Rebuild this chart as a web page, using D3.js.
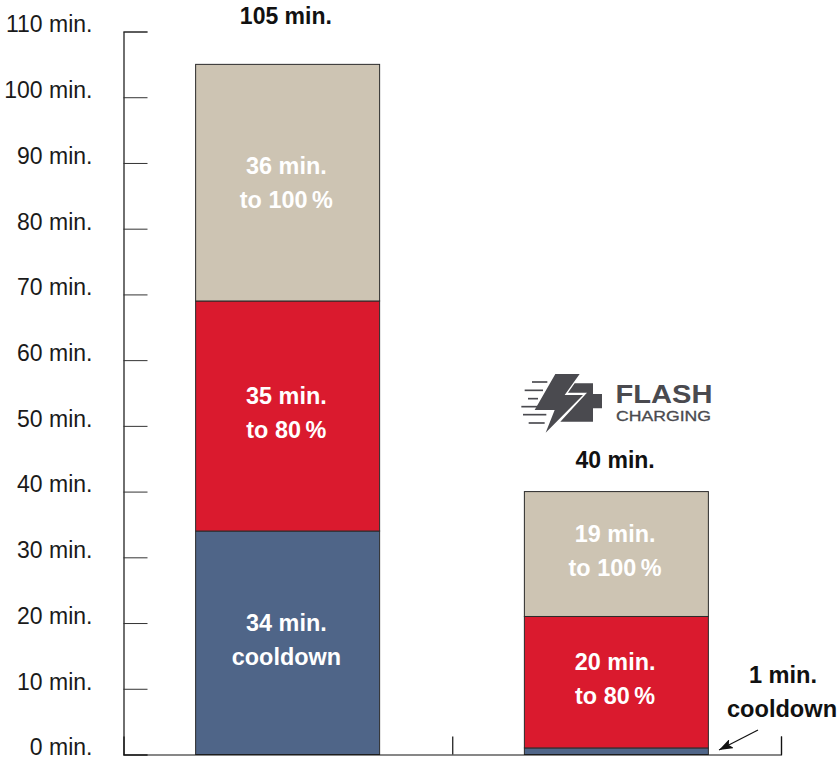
<!DOCTYPE html>
<html>
<head>
<meta charset="utf-8">
<script src="https://cdn.jsdelivr.net/npm/d3@7"></script>
<style>
  html, body { margin: 0; padding: 0; background: #fff; }
  svg { display: block; }
  text { font-family: "Liberation Sans", Arial, sans-serif; }
</style>
</head>
<body>
<svg id="chart" width="839" height="757"></svg>
<script>
const categories = ['Standard', 'Flash Charging'];
const cooldown = [34, 1];
const to80 = [35, 20];
const to100 = [36, 19];
const totals = ['105 min.', '40 min.'];
const yTicks = [0, 10, 20, 30, 40, 50, 60, 70, 80, 90, 100, 110];
const segmentKeys = ['cooldown', 'to80', 'to100'];
const segmentColors = ['#4f6588', '#da1a2e', '#cdc4b3'];
const segmentLabels = {
  cooldown: [['34 min.', 'cooldown'], null],
  to80: [['35 min.', 'to 80\u2009%'], ['20 min.', 'to 80\u2009%']],
  to100: [['36 min.', 'to 100\u2009%'], ['19 min.', 'to 100\u2009%']]
};

const rows = categories.map((c, i) => ({
  category: c, cooldown: cooldown[i], to80: to80[i], to100: to100[i], total: totals[i]
}));

const svg = d3.select('#chart');
const y = d3.scaleLinear().domain([0, 110]).range([754.5, 31.5]);
const x = d3.scaleBand().domain(categories).range([123.5, 781]).paddingInner(0).paddingOuter(0);
const barWidth = 184;
const barLeft = c => x(c) + (x.bandwidth() - barWidth) / 2 - 0.25;

const stack = d3.stack().keys(segmentKeys)(rows);

// bars
const layers = svg.selectAll('g.layer').data(stack).join('g')
  .attr('class', 'layer')
  .attr('fill', (d, i) => segmentColors[i]);

layers.selectAll('rect').data(d => d).join('rect')
  .attr('x', d => barLeft(d.data.category))
  .attr('y', d => y(d[1]))
  .attr('width', barWidth)
  .attr('height', d => y(d[0]) - y(d[1]))
  .attr('stroke', '#2a2a2a')
  .attr('stroke-width', 1);

// labels inside the bars
layers.each(function (layer) {
  d3.select(this).selectAll('text.seg').data(layer.filter((d, i) => segmentLabels[layer.key][i]).map(d => ({
    d, lines: segmentLabels[layer.key][rows.indexOf(d.data)]
  }))).join('text')
    .attr('class', 'seg')
    .attr('text-anchor', 'middle')
    .attr('fill', '#fff')
    .attr('font-size', 23.4)
    .attr('font-weight', 700)
    .each(function (o) {
      const cx = x(o.d.data.category) + x.bandwidth() / 2 - 1.5;
      const mid = (y(o.d[0]) + y(o.d[1])) / 2;
      const up = layer.key === 'to100' && o.d.data.category === categories[0] ? 0 : -3;
      d3.select(this).selectAll('tspan').data(o.lines).join('tspan')
        .attr('x', cx)
        .attr('y', (t, j) => mid + up - 9 + j * 34)
        .text(t => t);
    });
});

// axes
const yAxis = d3.axisLeft(y).tickValues(yTicks).tickSize(-24).tickPadding(31)
  .tickFormat(d => d + ' min.');
const gy = svg.append('g').attr('transform', 'translate(123.5,0)').call(yAxis);
gy.select('.domain').attr('stroke', '#111').attr('stroke-width', 1.2);
gy.selectAll('.tick line').attr('stroke', '#333').attr('stroke-width', 1);
gy.selectAll('.tick text')
  .attr('font-size', 23)
  .attr('fill', '#1a1a1a')
  .attr('y', -7);

const xEdges = d3.scaleLinear().domain([0, categories.length]).range([123.5, 781]);
const gx = svg.append('g').attr('transform', 'translate(0,754.5)')
  .call(d3.axisBottom(xEdges).tickValues([1, 2]).tickSize(-18).tickFormat(''));
gx.select('.domain').attr('stroke', '#111').attr('stroke-width', 1.2);
gx.selectAll('.tick line').attr('stroke', '#111').attr('stroke-width', 1.2);

// totals above the bars
svg.selectAll('text.total').data(rows).join('text')
  .attr('class', 'total')
  .attr('text-anchor', 'middle')
  .attr('font-size', 23)
  .attr('font-weight', 700)
  .attr('fill', '#111')
  .attr('x', (d, i) => x(d.category) + x.bandwidth() / 2 - (i === 0 ? 2 : 1.5))
  .attr('y', (d, i) => y(d.cooldown + d.to80 + d.to100) - (i === 0 ? 40 : 24))
  .text(d => d.total);

// annotation for the 1 min. segment
const note = svg.append('g').attr('text-anchor', 'middle').attr('font-size', 23.6)
  .attr('font-weight', 700).attr('fill', '#111');
note.append('text').attr('x', 783).attr('y', 683).text('1 min.');
note.append('text').attr('x', 782).attr('y', 717).text('cooldown');

svg.append('defs').append('marker')
  .attr('id', 'head').attr('viewBox', '0 0 14 10').attr('refX', 14).attr('refY', 5)
  .attr('markerWidth', 14).attr('markerHeight', 10).attr('markerUnits', 'userSpaceOnUse')
  .attr('orient', 'auto')
  .append('path').attr('d', 'M0,0L14,5L0,10L3,5Z').attr('fill', '#111');
svg.append('line')
  .attr('x1', 758).attr('y1', 730).attr('x2', 719).attr('y2', 750)
  .attr('stroke', '#111').attr('stroke-width', 1.2)
  .attr('marker-end', 'url(#head)');

// flash charging logo
const logo = svg.append('g').attr('transform', 'translate(518,370) scale(0.3333)');
const logoGrey = '#4a4a4f';
logo.append('path').attr('fill', logoGrey)
  .attr('d', 'M112,12L185,12L140,75L195,75L83,188L110,120L50,120Z');
logo.append('path').attr('fill', logoGrey)
  .attr('d', 'M170,40L225,40L225,72L252,72L252,115L225,115L225,155L127,155L207,68L150,68Z');
const speedLines = [[42, 88, 36], [20, 75, 61], [30, 60, 86], [10, 62, 110], [15, 85, 134], [32, 80, 159]];
logo.selectAll('line.speed').data(speedLines).join('line')
  .attr('class', 'speed')
  .attr('x1', d => d[0]).attr('x2', d => d[1])
  .attr('y1', d => d[2]).attr('y2', d => d[2])
  .attr('stroke', logoGrey).attr('stroke-width', 5);
svg.append('text').attr('x', 615.5).attr('y', 402.5)
  .attr('font-size', 25).attr('font-weight', 700).attr('fill', logoGrey)
  .attr('textLength', 97).attr('lengthAdjust', 'spacingAndGlyphs').text('FLASH');
svg.append('text').attr('x', 616).attr('y', 421)
  .attr('font-size', 14).attr('font-weight', 400).attr('fill', logoGrey)
  .attr('stroke', logoGrey).attr('stroke-width', 0.3)
  .attr('textLength', 95).attr('lengthAdjust', 'spacingAndGlyphs').text('CHARGING');
</script>
</body>
</html>
